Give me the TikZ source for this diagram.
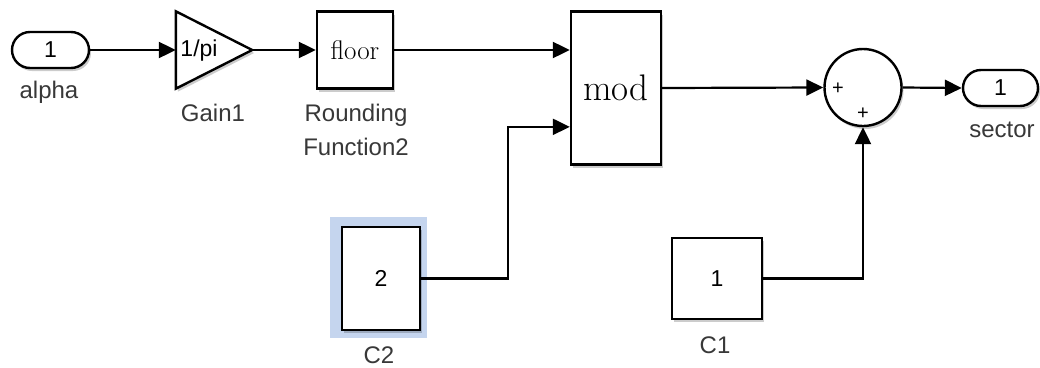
\documentclass[tikz,border=0pt]{standalone}
\usepackage{fontspec}
\setsansfont{Liberation Sans}
\usetikzlibrary{arrows.meta,shadows,calc}
\definecolor{lblgray}{HTML}{383838}
\definecolor{selblue}{HTML}{C5D5EE}
\tikzset{
  blk/.style={draw=black, line width=2.4pt, fill=white, inner sep=0pt,
    drop shadow={shadow xshift=2pt, shadow yshift=-3pt, opacity=0.2, fill=black}},
  port/.style={blk, rounded corners=18pt, minimum height=36pt},
  wire/.style={line width=2.2pt, -{Triangle[length=17pt,width=16pt]}},
  lbl/.style={text=lblgray, font=\sffamily\fontsize{24}{34}\selectfont, align=center, inner sep=0pt},
  btxt/.style={font=\sffamily\fontsize{23}{26}\selectfont, inner sep=0pt},
  sign/.style={font=\sffamily\fontsize{20}{20}\selectfont, inner sep=0pt},
}
\begin{document}
\begin{tikzpicture}[x=1pt,y=-1pt]
\useasboundingbox (0,0) rectangle (1040,367);
\fill[white] (0,0) rectangle (1040,367);

% selection highlight behind the C2 constant
\fill[selblue] (330,217) rectangle (427,338);

% inport
\node[port, minimum width=77pt, btxt] (alpha) at (50.5,50) {1};
\node[lbl] (alphalbl) at (49,92) {alpha};

% gain block (triangle drawn on an invisible frame)
\node[minimum width=76pt, minimum height=77pt, inner sep=0pt] (gain) at (214,50) {};
\fill[black, opacity=0.2] ([shift={(2,3)}]gain.north west) -- ([shift={(2,3)}]gain.east)
  -- ([shift={(2,3)}]gain.south west) -- cycle;
\draw[line width=2.4pt, fill=white, line join=miter] (gain.north west) -- (gain.east)
  -- (gain.south west) -- cycle;
\node[btxt] (gaintxt) at (199,51) {1/pi};
\node[lbl] (gainlbl) at (213,113) {Gain1};

% rounding function
\node[blk, minimum width=76pt, minimum height=77pt, font=\fontsize{27}{30}\selectfont] (floor) at (355,50) {floor};
\node[lbl] (floorlbl) at (356,130) {Rounding\\Function2};

% mod block
\node[blk, minimum width=90pt, minimum height=153pt, font=\fontsize{37}{40}\selectfont] (mod) at (616,88) {mod};
\coordinate (m1) at ($(mod.north west)!0.25!(mod.south west)$);
\coordinate (m2) at ($(mod.north west)!0.75!(mod.south west)$);

% sum block
\node[blk, circle, minimum size=77pt] (sum) at (863,87.5) {};
\node[sign] (plus1) at (838,89) {+};
\node[sign] (plus2) at (863,114) {+};

% outport
\node[port, minimum width=75pt, btxt] (sector) at (1000.5,88) {1};
\node[lbl] (sectorlbl) at (1002,130) {sector};

% constants
\node[blk, minimum width=78pt, minimum height=103pt, btxt] (c2) at (381,278.5) {2};
\node[lbl] (c2lbl) at (379,355) {C2};
\node[blk, minimum width=90pt, minimum height=81pt, btxt] (c1) at (717,278.5) {1};
\node[lbl] (c1lbl) at (715,345) {C1};

% signal lines
\draw[wire] (alpha.east) -- (gain.west |- alpha.east);
\draw[wire] (gain.east) -- (floor.west);
\draw[wire] (floor.east) -- (floor.east -| m1);
\coordinate (c2bend) at (508,278.5);
\draw[wire] (c2.east) -- (c2bend) |- (m2);
\draw[wire] (mod.east) -- (sum.west);
\draw[wire] (sum.east) -- (sector.west);
\draw[wire] (c1.east) -| (sum.south);
\end{tikzpicture}
\end{document}
